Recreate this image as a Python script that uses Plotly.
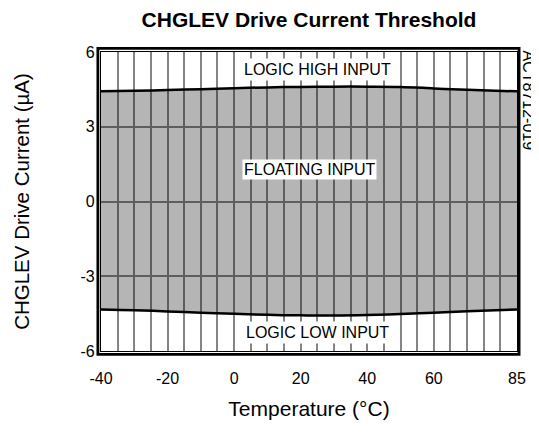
import plotly.graph_objects as go

# Data
temps = [-40, -30, -20, -10, 0, 10, 20, 30, 40, 50, 60, 70, 85]
upper = [4.42, 4.44, 4.47, 4.51, 4.55, 4.58, 4.60, 4.61, 4.61, 4.60, 4.54, 4.48, 4.42]
lower = [-4.33, -4.36, -4.41, -4.46, -4.51, -4.55, -4.57, -4.58, -4.56, -4.52, -4.46, -4.40, -4.33]

x_ticks = [-40, -20, 0, 20, 40, 60, 85]
y_ticks = [-6, -3, 0, 3, 6]

FONT = "Liberation Sans, Arial, sans-serif"

fig = go.Figure()
fig.add_trace(go.Scatter(x=temps, y=lower, mode="lines", line=dict(color="black", width=2.5, shape="spline"),
                         hoverinfo="skip", showlegend=False))
fig.add_trace(go.Scatter(x=temps, y=upper, mode="lines", line=dict(color="black", width=2.5, shape="spline"),
                         fill="tonexty", fillcolor="rgba(0,0,0,0.29)", hoverinfo="skip", showlegend=False))

# double frame: outer thick rectangle
fig.add_shape(type="rect", xref="paper", yref="paper", x0=-0.0075, x1=1.005, y0=-0.011, y1=1.012,
              line=dict(color="black", width=2.8), layer="above")

ann_font = dict(family=FONT, size=16, color="black")
fig.add_annotation(x=25, y=5.3, text="LOGIC HIGH INPUT", showarrow=False, font=ann_font,
                   bgcolor="white", borderpad=2)
fig.add_annotation(x=22.5, y=1.28, text="FLOATING INPUT", showarrow=False, font=ann_font,
                   bgcolor="white", borderpad=1)
fig.add_annotation(x=25, y=-5.24, text="LOGIC LOW INPUT", showarrow=False, font=ann_font,
                   bgcolor="white", borderpad=2)
fig.add_annotation(xref="paper", yref="paper", x=1.03, y=1.01, xanchor="center", yanchor="top",
                   text="ACT8712-019", textangle=90, showarrow=False,
                   font=dict(family=FONT, size=16, color="black"))

fig.update_layout(
    width=531, height=412,
    margin=dict(l=93, r=22, t=44, b=69, autoexpand=False),
    paper_bgcolor="white", plot_bgcolor="white",
    title=dict(text="<b>CHGLEV Drive Current Threshold</b>", x=0.5, xref="paper",
               y=1 - 12 / 412, yanchor="middle", xanchor="center",
               font=dict(family=FONT, size=21, color="black")),
    font=dict(family=FONT, color="black"),
)
fig.update_xaxes(range=[-40, 85], tickvals=x_ticks, ticktext=[str(v) for v in x_ticks],
                 showgrid=True, gridcolor="#858585", gridwidth=1.7,
                 minor=dict(tick0=-40, dtick=5, showgrid=True, gridcolor="#858585", gridwidth=1.7),
                 showline=True, mirror=True, linecolor="black", linewidth=1.2,
                 zeroline=False, ticks="", ticklabelstandoff=13, automargin=False,
                 tickfont=dict(family=FONT, size=16, color="black"),
                 title=dict(text="Temperature (°C)", font=dict(family=FONT, size=21, color="black"), standoff=17))
fig.update_yaxes(range=[-6, 6], tickvals=y_ticks, ticktext=[str(v) for v in y_ticks],
                 showgrid=True, gridcolor="#858585", gridwidth=1.7,
                 showline=True, mirror=True, linecolor="black", linewidth=1.2,
                 zeroline=False, ticks="", ticklabelstandoff=2, automargin=False,
                 tickfont=dict(family=FONT, size=16, color="black"),
                 title=dict(text="CHGLEV Drive Current (µA)", font=dict(family=FONT, size=20.5, color="black"), standoff=45))

fig.write_html("out.html")
